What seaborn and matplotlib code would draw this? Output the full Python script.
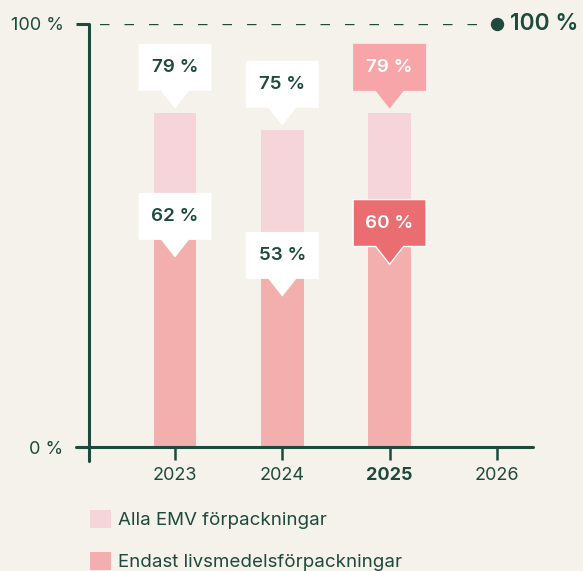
import matplotlib
matplotlib.use("Agg")
import matplotlib.pyplot as plt
from matplotlib.patches import Polygon, Patch
import pandas as pd
import seaborn as sns

# data
years = ["2023", "2024", "2025", "2026"]
bar_years = ["2023", "2024", "2025"]
alla_emv = [79, 75, 79]      # % av alla EMV-förpackningar
livsmedel = [62, 53, 60]     # % av livsmedelsförpackningar
legend_labels = ["Alla EMV förpackningar", "Endast livsmedelsförpackningar"]

# colours
bg = "#F5F2EB"
green = "#1D4A3C"
light_pink = "#F5D5DA"
pink = "#F3AEAE"
callout_pink = "#F7A5A8"
callout_red = "#EA6D71"

sns.set_theme(style="white")
plt.rcParams["font.family"] = ["Inter", "DejaVu Sans"]

W, H = 583, 571
fig = plt.figure(figsize=(W / 100, H / 100), dpi=100, facecolor=bg)
ax = fig.add_axes([89 / W, 1 - 447 / H, 444 / W, 423 / H])
ax.set_facecolor(bg)

df = pd.DataFrame({
    "year": bar_years,
    "alla": alla_emv,
    # the food bar is drawn as a share of the full bar
    "livs": [a * b / 100 for a, b in zip(alla_emv, livsmedel)],
})
sns.barplot(data=df, x="year", y="alla", order=years, color=light_pink,
            width=0.4, saturation=1, errorbar=None, linewidth=0, ax=ax)
sns.barplot(data=df, x="year", y="livs", order=years, color=pink,
            width=0.4, saturation=1, errorbar=None, linewidth=0, ax=ax)

ax.set_xlim(-0.801, 3.336)
ax.set_ylim(0, 100)
for s in ax.spines.values():
    s.set_visible(False)

# axis lines
ax.axvline(-0.801, ymin=-14 / 423, ymax=1, color=green, lw=2.2, clip_on=False)
ax.axhline(0, xmin=-13 / 444, xmax=1, color=green, lw=2.2, clip_on=False)

# 100 % reference line
lw = 1.7
ax.plot([-0.70, 2.93], [100, 100], color=green, lw=lw,
        dashes=(9.5 * 0.72 / lw, 15 * 0.72 / lw))
ax.plot(3, 100, "o", ms=8.6, color=green, clip_on=False)
ax.text(3.12, 100, "100 %", ha="left", va="center", fontsize=16.5,
        fontweight="semibold", color=green, clip_on=False)

# ticks
ax.set_xticks(range(len(years)))
ax.set_xticklabels(years)
ax.set_xlabel("")
ax.set_ylabel("")
ax.tick_params(axis="x", length=9.4, width=1.8, color=green, labelcolor=green,
               labelsize=13, pad=5, bottom=True)
for lab in ax.get_xticklabels():
    if lab.get_text() == "2025":
        lab.set_fontweight("bold")
ax.set_yticks([0, 100])
ax.set_yticklabels(["0 %", "100 %"])
ax.tick_params(axis="y", length=9.4, width=2.2, color=green, labelcolor=green,
               labelsize=13, pad=9, left=True)

# callouts
bw, bh = 0.68, 11.1   # box size in data units
tw, th = 0.26, 4.2    # pointer size


def callout(x, box_bottom, text, face, tcolor, edge="none"):
    pts = [(x - bw / 2, box_bottom), (x - bw / 2, box_bottom + bh),
           (x + bw / 2, box_bottom + bh), (x + bw / 2, box_bottom),
           (x + tw / 2, box_bottom), (x, box_bottom - th),
           (x - tw / 2, box_bottom)]
    ax.add_patch(Polygon(pts, closed=True, facecolor=face, edgecolor=edge,
                         lw=1 if edge != "none" else 0, zorder=5))
    ax.text(x, box_bottom + bh / 2, text, ha="center", va="center",
            fontsize=13.5, fontweight="semibold", color=tcolor, zorder=6)


for i, (a, b) in enumerate(zip(alla_emv, livsmedel)):
    hi = bar_years[i] == "2025"
    callout(i, a + 1 + th, f"{a} %", callout_pink if hi else "white",
            "white" if hi else green)
    callout(i, a * b / 100, f"{b} %", callout_red if hi else "white",
            "white" if hi else green, edge="white" if hi else "none")

# legend
handles = [Patch(facecolor=light_pink, edgecolor="none"),
           Patch(facecolor=pink, edgecolor="none")]
leg = fig.legend(handles, legend_labels, loc="upper left",
                 bbox_to_anchor=(90 / W, 1 - 510 / H), frameon=False,
                 fontsize=13.5, handlelength=1.1, handleheight=1.1,
                 handletextpad=0.42, labelspacing=1.2, borderpad=0,
                 borderaxespad=0)
for t in leg.get_texts():
    t.set_color(green)

fig.savefig("out.png", dpi=100, facecolor=bg)
